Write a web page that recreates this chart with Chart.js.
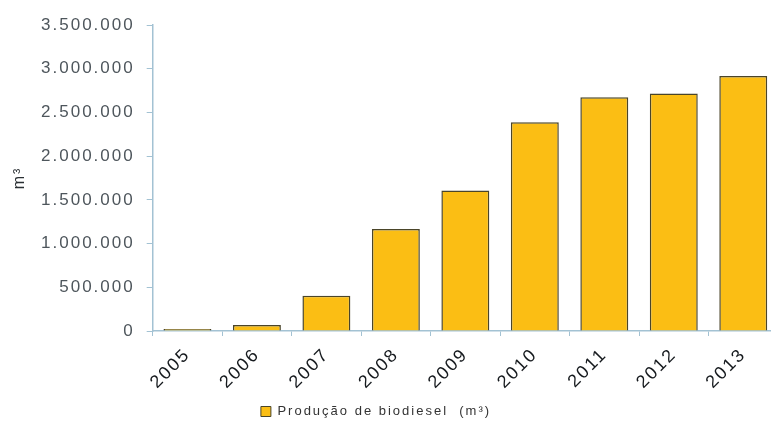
<!DOCTYPE html>
<html lang="pt-BR">
<head>
<meta charset="utf-8">
<title>Produção de biodiesel</title>
<script src="https://cdn.jsdelivr.net/npm/chart.js@4/dist/chart.umd.min.js"></script>
<style>
  html, body { margin: 0; padding: 0; background: #ffffff; overflow: hidden; }
  #wrap { width: 771px; height: 428px; overflow: hidden; }
</style>
</head>
<body>
<div id="wrap"><canvas id="chart" width="779" height="428"></canvas></div>
<script>
// Produção anual de biodiesel (m³)
const anos = ['2005', '2006', '2007', '2008', '2009', '2010', '2011', '2012', '2013'];
const producao = [736, 69002, 404329, 1167128, 1608448, 2386399, 2672760, 2717483, 2917488];
const serieNome = 'Produção de biodiesel  (m³)';
const eixoY = { min: 0, max: 3500000, passo: 500000 };

const corBarra = '#fbbe14';
const corBorda = '#4a4529';
const corEixo = '#a3c2d3';

// thousands separated with dots, pt-BR style
function formatarMilhar(v) {
  return String(Math.round(v)).replace(/\B(?=(\d{3})+(?!\d))/g, '.');
}

// wide tracking for every text drawn on the canvas
const espacamento = {
  id: 'espacamento',
  beforeUpdate(chart) { chart.ctx.letterSpacing = '2px'; },
  beforeLayout(chart) { chart.ctx.letterSpacing = '2px'; },
  beforeDraw(chart) { chart.ctx.letterSpacing = '2px'; }
};

// the legend sits a little left of the canvas centre
const legendaDeslocada = {
  id: 'legendaDeslocada',
  beforeDraw(chart) {
    const lg = chart.legend;
    if (lg && !lg._deslocada) {
      lg.left -= 13;
      lg.right -= 13;
      lg._deslocada = true;
    }
  }
};

new Chart(document.getElementById('chart'), {
  type: 'bar',
  data: {
    labels: anos,
    datasets: [{
      label: serieNome,
      data: producao,
      backgroundColor: corBarra,
      borderColor: corBorda,
      borderWidth: 1.5,
      minBarLength: 2,
      barPercentage: 0.69,
      categoryPercentage: 1
    }]
  },
  options: {
    responsive: false,
    animation: false,
    devicePixelRatio: 1,
    layout: { padding: { left: 0, right: 1, top: 25, bottom: 0 } },
    plugins: {
      tooltip: { enabled: false },
      legend: {
        position: 'bottom',
        labels: {
          boxWidth: 10,
          boxHeight: 10,
          padding: 8,
          color: '#333333',
          font: { family: '"Liberation Sans", Arial, sans-serif', size: 13 },
          generateLabels(chart) {
            const ds = chart.data.datasets[0];
            return [{
              text: ds.label,
              fillStyle: corBarra,
              strokeStyle: corBorda,
              lineWidth: 1,
              fontColor: '#333333',
              datasetIndex: 0
            }];
          }
        }
      }
    },
    scales: {
      x: {
        grid: {
          display: true,
          drawOnChartArea: false,
          drawTicks: true,
          tickLength: 5,
          color: corEixo,
          offset: true
        },
        border: { display: true, color: corEixo, width: 1.5 },
        ticks: {
          color: '#15191d',
          minRotation: 45,
          maxRotation: 45,
          padding: 8,
          autoSkip: false,
          font: { family: '"Liberation Sans", Arial, sans-serif', size: 18 }
        },
        afterFit(scale) { scale.height = 66; }
      },
      y: {
        min: eixoY.min,
        max: eixoY.max,
        grid: {
          display: true,
          drawOnChartArea: false,
          drawTicks: true,
          tickLength: 6,
          color: corEixo
        },
        border: { display: true, color: corEixo, width: 1.5 },
        ticks: {
          stepSize: eixoY.passo,
          color: '#4e565c',
          padding: 12,
          font: { family: '"Liberation Sans", Arial, sans-serif', size: 17 },
          callback: (v) => formatarMilhar(v)
        },
        title: {
          display: true,
          text: 'm³',
          color: '#2a2f33',
          padding: { top: 10, bottom: 0 },
          font: { family: '"Liberation Sans", Arial, sans-serif', size: 16 }
        },
        afterFit(scale) { scale.width = 152.7; }
      }
    }
  },
  plugins: [espacamento, legendaDeslocada]
});
</script>
</body>
</html>
